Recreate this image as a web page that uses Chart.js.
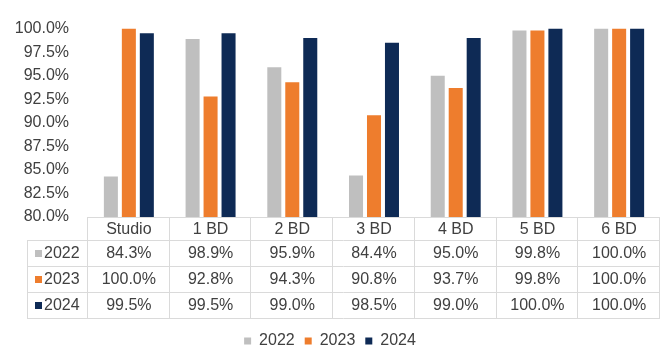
<!DOCTYPE html>
<html lang="en">
<head>
  <meta charset="UTF-8">
  <title>Occupancy by unit type</title>
  <script src="https://cdn.jsdelivr.net/npm/chart.js"></script>
  <style>
    html, body {
      margin: 0;
      padding: 0;
      background: #fff;
    }
    #wrap {
      width: 662px;
      height: 349px;
    }
  </style>
</head>
<body>
  <div id="wrap"><canvas id="chart" width="662" height="349"></canvas></div>

  <script>
    const unitTypes = ['Studio', '1 BD', '2 BD', '3 BD', '4 BD', '5 BD', '6 BD'];
    const years = ['2022', '2023', '2024'];
    const occ2022 = [84.3, 98.9, 95.9, 84.4, 95.0, 99.8, 100.0];
    const occ2023 = [100.0, 92.8, 94.3, 90.8, 93.7, 99.8, 100.0];
    const occ2024 = [99.5, 99.5, 99.0, 98.5, 99.0, 100.0, 100.0];
    const yearColors = ['#bfbfbf', '#ee7d2d', '#0e2a55'];

    const FONT = 'Arial, "Liberation Sans", sans-serif';
    const TEXT = '#404040';
    const LINE = '#dadada';
    const HEADER_H = 23;
    const ROW_H = 26;
    const TABLE_LEFT = 27;
    const LEGEND_PAD = 10;

    const pct = v => v.toFixed(1) + '%';

    // data table under the bars, one column per category of the x scale
    const dataTable = {
      id: 'dataTable',
      afterDraw(chart) {
        const ctx = chart.ctx;
        const xs = chart.scales.x;
        const area = chart.chartArea;
        const colW = xs.width / unitTypes.length;
        const top = area.bottom;
        const rowsTop = top + HEADER_H;
        const bottom = rowsTop + ROW_H * years.length;

        ctx.save();
        ctx.strokeStyle = LINE;
        ctx.lineWidth = 1;
        ctx.beginPath();
        ctx.moveTo(area.left, top + 0.5);
        ctx.lineTo(area.right, top + 0.5);
        for (let r = 0; r <= years.length; r++) {
          const y = Math.round(rowsTop + r * ROW_H) + 0.5;
          ctx.moveTo(TABLE_LEFT, y);
          ctx.lineTo(area.right, y);
        }
        for (let i = 0; i <= unitTypes.length; i++) {
          const x = Math.round(area.left + i * colW) - 0.5;
          ctx.moveTo(x, top);
          ctx.lineTo(x, bottom);
        }
        ctx.moveTo(TABLE_LEFT + 0.5, rowsTop);
        ctx.lineTo(TABLE_LEFT + 0.5, bottom);
        ctx.stroke();

        ctx.fillStyle = TEXT;
        ctx.font = '16px ' + FONT;
        ctx.textAlign = 'center';
        ctx.textBaseline = 'middle';
        unitTypes.forEach((name, i) => {
          ctx.fillText(name, xs.getPixelForValue(i), top + HEADER_H / 2 + 1);
        });

        chart.data.datasets.forEach((ds, r) => {
          const cy = rowsTop + r * ROW_H + ROW_H / 2 + 1;
          ctx.fillStyle = ds.backgroundColor;
          ctx.fillRect(TABLE_LEFT + 8, cy - 4, 7, 7);
          ctx.fillStyle = TEXT;
          ctx.textAlign = 'left';
          ctx.fillText(ds.label, TABLE_LEFT + 17, cy);
          ctx.textAlign = 'center';
          ds.data.forEach((v, i) => {
            ctx.fillText(pct(v), xs.getPixelForValue(i), cy);
          });
        });
        ctx.restore();
      }
    };

    const seriesValues = [occ2022, occ2023, occ2024];

    new Chart(document.getElementById('chart'), {
      type: 'bar',
      data: {
        labels: unitTypes,
        datasets: years.map((yr, k) => ({
          label: yr,
          data: seriesValues[k],
          backgroundColor: yearColors[k],
          borderWidth: 0,
          categoryPercentage: 0.66,
          barPercentage: 0.78
        }))
      },
      options: {
        responsive: false,
        animation: false,
        layout: {
          padding: { top: 19, right: 2, bottom: -10, left: 0 }
        },
        plugins: {
          tooltip: { enabled: false },
          legend: {
            position: 'bottom',
            labels: {
              boxWidth: 7,
              boxHeight: 7,
              padding: LEGEND_PAD,
              color: TEXT,
              font: { family: FONT, size: 16 }
            }
          }
        },
        scales: {
          x: {
            grid: { display: false, drawTicks: false },
            border: { display: false },
            ticks: { display: false },
            afterFit(scale) {
              // room for the table, legend sits right below it
              scale.height = 116 - LEGEND_PAD;
            }
          },
          y: {
            min: 80,
            max: 100,
            grid: { display: false, drawTicks: false },
            border: { display: false },
            ticks: {
              stepSize: 2.5,
              padding: 19,
              color: TEXT,
              font: { family: FONT, size: 16 },
              callback: v => pct(v)
            },
            afterFit(scale) {
              scale.width = 88;
            }
          }
        }
      },
      plugins: [dataTable]
    });
  </script>
</body>
</html>
